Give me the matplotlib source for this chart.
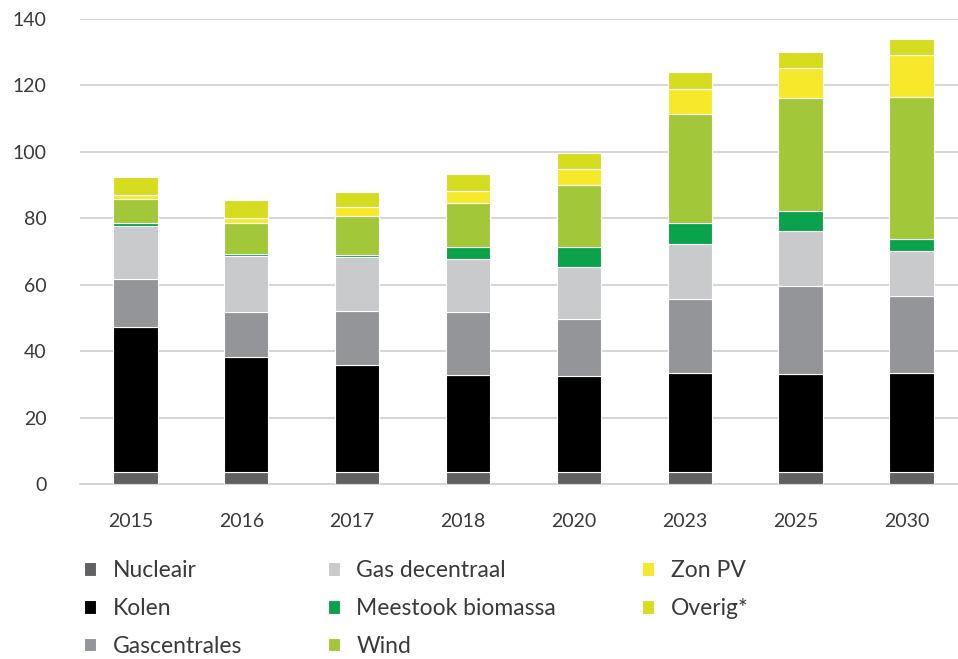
"""
Stacked bar chart: opgesteld vermogen per bron (2015-2030).
Output: out.png
"""

import numpy as np
import matplotlib
matplotlib.use("Agg")
import matplotlib.pyplot as plt
import matplotlib.transforms as mtransforms

plt.rcParams["font.family"] = ["Lato", "DejaVu Sans"]

# --- Data ---
years = ["2015", "2016", "2017", "2018", "2020", "2023", "2025", "2030"]

nucleair = [3.7, 3.7, 3.7, 3.7, 3.7, 3.7, 3.7, 3.7]
kolen = [43.5, 34.6, 32.1, 29.1, 28.8, 29.6, 29.4, 29.6]
gascentrales = [14.4, 13.6, 16.4, 19.1, 17.1, 22.3, 26.6, 23.4]
gas_decentraal = [16.1, 16.6, 16.1, 15.7, 15.6, 16.7, 16.5, 13.3]
meestook_biomassa = [0.8, 0.8, 0.7, 3.7, 6.1, 6.2, 6.1, 3.7]
wind = [7.2, 9.2, 11.7, 13.4, 18.7, 32.9, 33.8, 42.7]
zon_pv = [1.3, 1.5, 2.6, 3.5, 4.8, 7.5, 9.1, 12.8]
overig = [5.3, 5.5, 4.7, 5.0, 4.8, 5.1, 5.0, 4.8]

series_names = ["Nucleair", "Kolen", "Gascentrales", "Gas decentraal",
                "Meestook biomassa", "Wind", "Zon PV", "Overig*"]
series_values = [nucleair, kolen, gascentrales, gas_decentraal,
                 meestook_biomassa, wind, zon_pv, overig]
series_colors = ["#616163", "#000000", "#939598", "#c9cacc",
                 "#0aa24b", "#a2c83a", "#f6e92c", "#d6dc1f"]

TEXT = "#3a3a3a"
GRID = "#d2d2d2"

fig = plt.figure(figsize=(9.58, 6.59), dpi=100)
ax = fig.add_axes([0.0835, 0.2656, 0.9165, 0.7056])

x = np.arange(len(years))
bottom = np.zeros(len(years))
handles = []
for name, vals, col in zip(series_names, series_values, series_colors):
    b = ax.bar(x, vals, width=0.40, bottom=bottom, color=col,
               edgecolor="white", linewidth=0.8, label=name, zorder=3)
    handles.append(b)
    bottom += np.array(vals)

ax.set_ylim(0, 140)
ax.set_xlim(-0.5, 7.42)
ax.set_yticks(np.arange(0, 141, 20))
ax.set_xticks(x)
ax.set_xticklabels(years)

ax.yaxis.grid(True, color=GRID, linewidth=1.3, zorder=0)
ax.set_axisbelow(True)
for s in ["top", "right", "left"]:
    ax.spines[s].set_visible(False)
ax.spines["bottom"].set_color(GRID)
ax.spines["bottom"].set_linewidth(1.3)
ax.tick_params(axis="both", length=0, labelsize=14, colors=TEXT)
ax.tick_params(axis="y", pad=24)
ax.tick_params(axis="x", pad=21)

# year labels sit a little left of the bar centres in the original
shift = mtransforms.ScaledTranslation(-5 / 100, 0, fig.dpi_scale_trans)
for lbl in ax.get_xticklabels():
    lbl.set_transform(lbl.get_transform() + shift)

leg = fig.legend(handles, series_names, ncol=3, loc="upper left",
                 bbox_to_anchor=(0.078, 0.1639), frameon=False,
                 fontsize=16.5, handlelength=0.53, handleheight=0.53,
                 handletextpad=0.72, columnspacing=3.75, labelspacing=0.73,
                 borderaxespad=0)
for t in leg.get_texts():
    t.set_color(TEXT)

fig.savefig("out.png", dpi=100)
